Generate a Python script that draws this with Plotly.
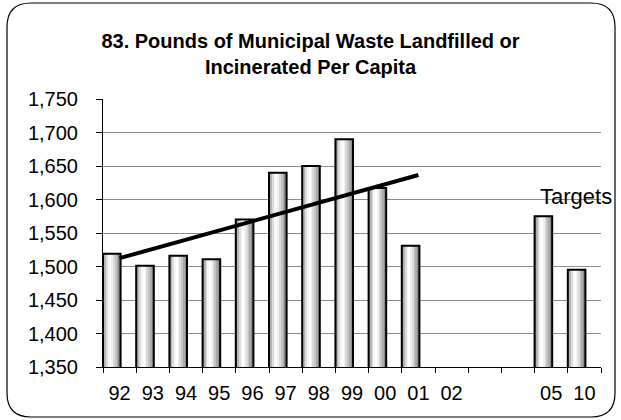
import numpy as np
import plotly.graph_objects as go

# ---- data ----
categories = ["92", "93", "94", "95", "96", "97", "98", "99", "00", "01", "02", "03", "04", "05", "10"]
tick_labels = ["92", "93", "94", "95", "96", "97", "98", "99", "00", "01", "02", "", "", "05", "10"]
pounds = [1519, 1501, 1516, 1511, 1570, 1640, 1650, 1690, 1617, 1531, None, None, None, 1575, 1495]
trend_years = categories[:10]
trend_values = pounds[:10]
title_text = "83. Pounds of Municipal Waste Landfilled or<br>Incinerated Per Capita"
note_text = "Targets"

FONT = "Liberation Sans, Arial, sans-serif"
W, H = 621, 420
ML, MR, MT, MB = 103, 20, 99, 53
PW, PH = W - ML - MR, H - MT - MB

fig = go.Figure()

# gradient-shaded bars built from vertical strips
bar_w = 0.53
strip_colors = ["#8a8a8a", "#b4b4b4", "#dcdcdc", "#f6f6f6", "#ffffff", "#f0f0f0",
                "#dadada", "#c4c4c4", "#aaaaaa", "#8c8c8c"]
n = len(strip_colors)
for k, c in enumerate(strip_colors):
    fig.add_trace(go.Bar(
        x=categories, y=pounds,
        offset=-0.5 + k * bar_w / n, width=bar_w / n * 1.08,
        marker=dict(color=c, line=dict(width=0)),
        hoverinfo="skip", showlegend=False))
# outline
fig.add_trace(go.Bar(
    x=categories, y=pounds, offset=-0.5, width=bar_w,
    marker=dict(color="rgba(0,0,0,0)", line=dict(color="black", width=2)),
    showlegend=False))

# linear trend line through the historical values
xi = np.arange(len(trend_values))
slope, intercept = np.polyfit(xi, np.array(trend_values, dtype=float), 1)
fig.add_trace(go.Scatter(
    x=[trend_years[0], trend_years[-1]],
    y=[intercept, intercept + slope * xi[-1]],
    mode="lines", line=dict(color="black", width=4), showlegend=False))

fig.add_annotation(x=13.76, y=1605, xref="x", yref="y", text=note_text,
                   showarrow=False, font=dict(family=FONT, size=22, color="black"),
                   xanchor="center", yanchor="middle")

# rounded chart border
def px(x):
    return (x - ML) / PW

def py(y):
    return (H - MB - y) / PH

L, R, T, B, r = 7, 615, 3, 417, 24
path = (f"M {px(L+r)},{py(T)} L {px(R-r)},{py(T)} Q {px(R)},{py(T)} {px(R)},{py(T+r)} "
        f"L {px(R)},{py(B-r)} Q {px(R)},{py(B)} {px(R-r)},{py(B)} "
        f"L {px(L+r)},{py(B)} Q {px(L)},{py(B)} {px(L)},{py(B-r)} "
        f"L {px(L)},{py(T+r)} Q {px(L)},{py(T)} {px(L+r)},{py(T)} Z")
fig.add_shape(type="path", path=path, xref="paper", yref="paper",
              line=dict(color="black", width=1.2), layer="above")

fig.update_layout(
    width=W, height=H,
    margin=dict(l=ML, r=MR, t=MT, b=MB),
    paper_bgcolor="white", plot_bgcolor="white",
    barmode="overlay",
    showlegend=False,
    title=dict(text=title_text, x=0.5, xanchor="center", xref="container",
               y=1 - 48 / H, yanchor="top", yref="container",
               font=dict(family=FONT, size=20, color="black", weight="bold")),
    font=dict(family=FONT, size=20, color="black"),
)
fig.update_xaxes(
    type="category", categoryorder="array", categoryarray=categories,
    range=[-0.5, len(categories) - 0.5],
    tickmode="array", tickvals=categories, ticktext=tick_labels,
    tickson="boundaries", ticks="outside", ticklen=5, tickcolor="black",
    showline=True, linecolor="black", linewidth=1,
    showgrid=False, ticklabelstandoff=8,
    tickfont=dict(family=FONT, size=20, color="black"))
fig.update_yaxes(
    range=[1350, 1750], dtick=50, tick0=1350, tickformat=",d",
    ticks="outside", ticklen=6, tickcolor="black",
    showline=True, linecolor="black", linewidth=1,
    showgrid=True, gridcolor="#8c8c8c", gridwidth=1,
    zeroline=False, ticklabelstandoff=14,
    tickfont=dict(family=FONT, size=20, color="black"))

fig.write_html("out.html", config={"displayModeBar": False},
               post_script="document.body.style.margin='0';")
